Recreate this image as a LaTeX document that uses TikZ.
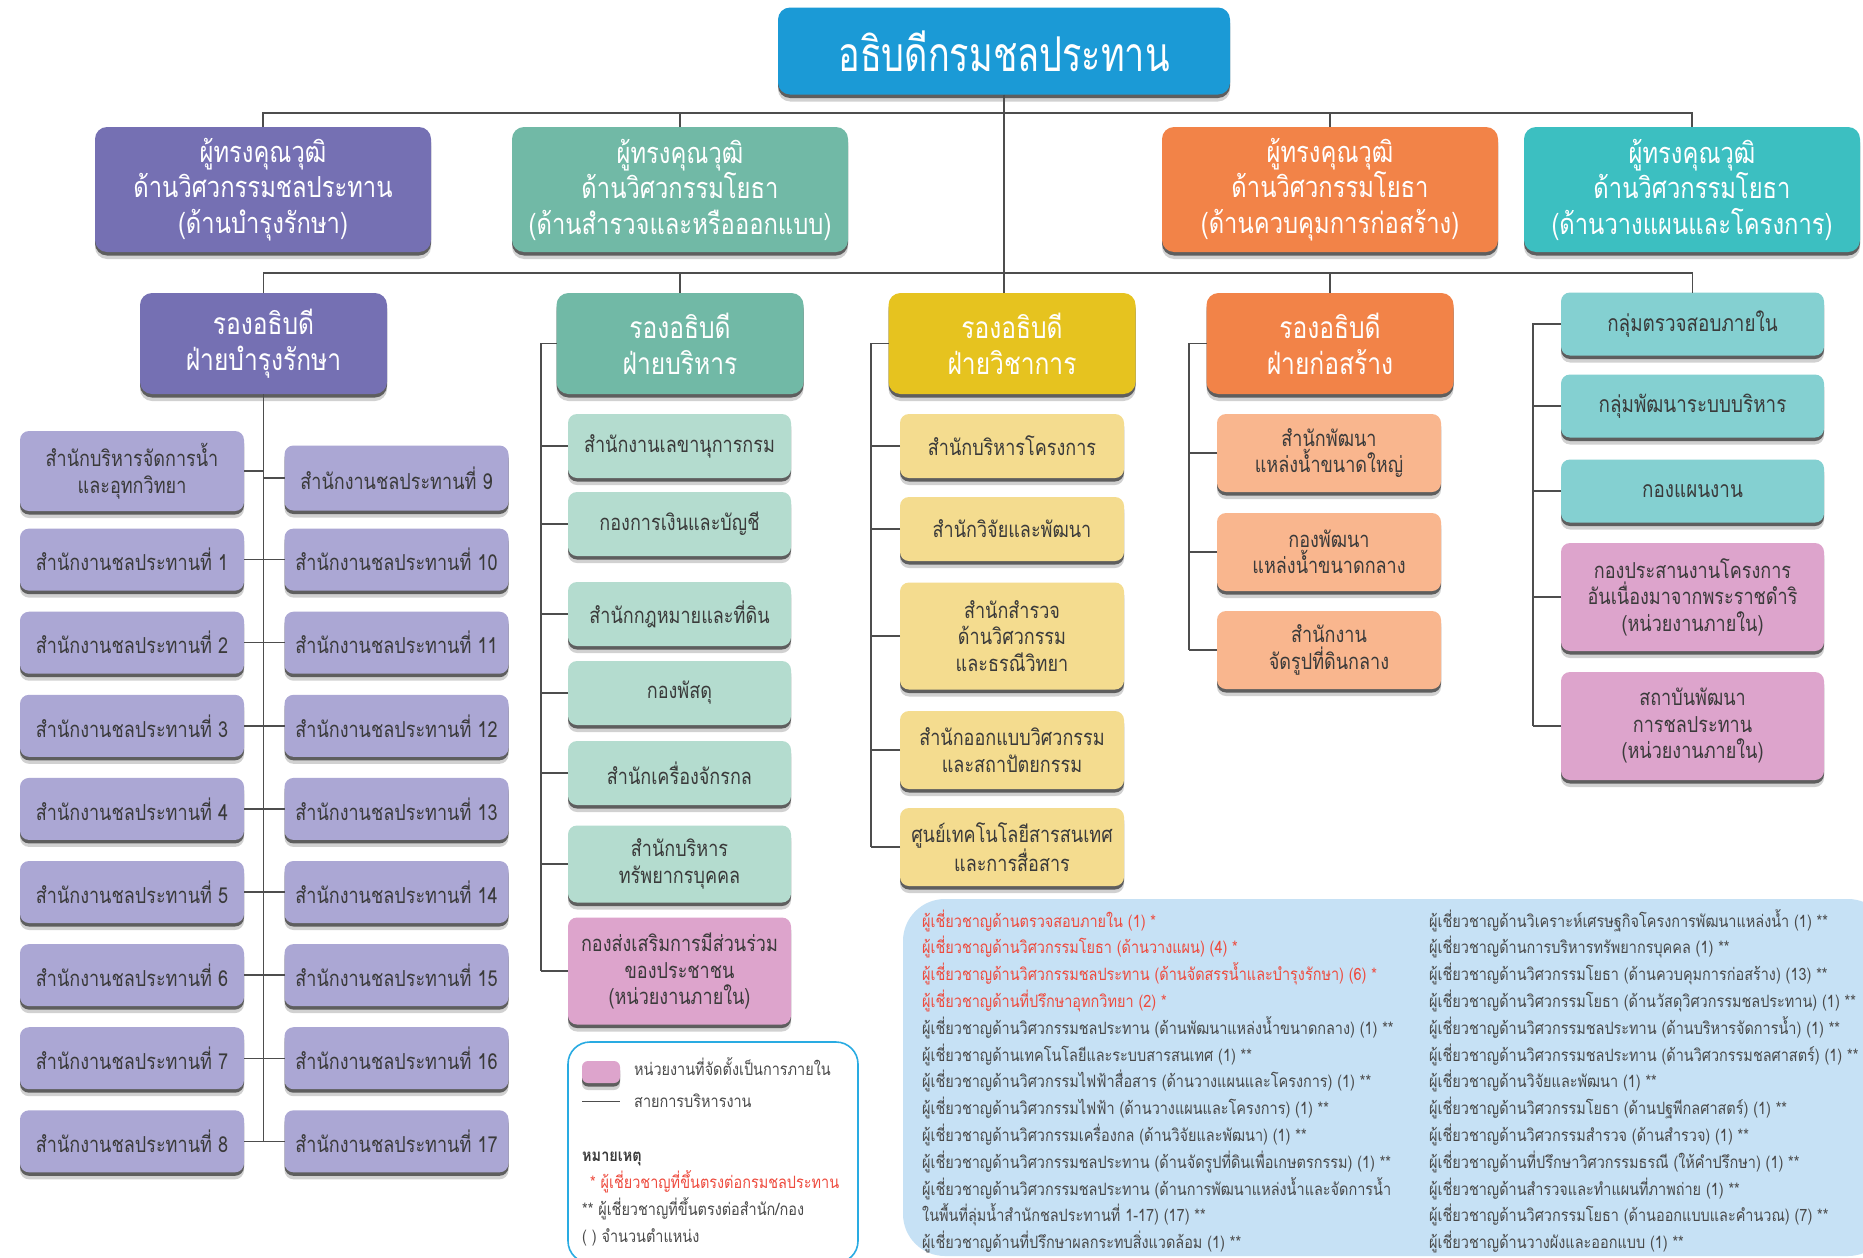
\documentclass[tikz,border=0pt]{standalone}
\usepackage{fontspec}
\setmainfont{Liberation Sans}
\newfontfamily\thai[Script=Thai,FakeStretch=0.85]{Loma}
\newfontfamily\thaic[Script=Thai,FakeStretch=0.82]{Loma}
\newfontfamily\thait[Script=Thai,FakeStretch=0.75]{Loma}
\usetikzlibrary{shadows}
\definecolor{cTitle}{HTML}{1B9AD6}
\definecolor{cPurple}{HTML}{7570B3}
\definecolor{cPurpleL}{HTML}{ABA7D4}
\definecolor{cGreen}{HTML}{71B9A6}
\definecolor{cGreenL}{HTML}{B4DCCF}
\definecolor{cYellow}{HTML}{E6C31F}
\definecolor{cYellowL}{HTML}{F4DC8F}
\definecolor{cOrange}{HTML}{F28348}
\definecolor{cOrangeL}{HTML}{F9B68E}
\definecolor{cTeal}{HTML}{3CBFC1}
\definecolor{cTealL}{HTML}{84D0D1}
\definecolor{cPink}{HTML}{DDA4CC}
\definecolor{cPanel}{HTML}{C6E1F5}
\definecolor{cRed}{HTML}{EE4B3E}
\definecolor{cText}{HTML}{3A3A3A}
\definecolor{cGrey}{HTML}{4A4A4A}
\definecolor{cLine}{HTML}{4D4D4D}
\definecolor{cLegend}{HTML}{29ABE2}
\begin{document}
\begin{tikzpicture}[x=1pt,y=-1pt,
  base/.style={rounded corners=9pt, align=center, inner sep=2pt, outer sep=0pt,
    drop shadow={shadow xshift=0pt, shadow yshift=-7pt, opacity=.18, fill=black},
    general shadow={shadow xshift=0pt, shadow yshift=-3.5pt, fill=black, opacity=.55}},
  titlebox/.style={base, fill=cTitle, text=white, rounded corners=12pt,
    font=\thait\fontsize{48}{52}\selectfont, minimum width=452pt, minimum height=87pt},
  rowone/.style={base, text=white, rounded corners=12pt,
    font=\thaic\fontsize{29}{35.5}\selectfont, minimum width=336pt, minimum height=125pt},
  headbox/.style={base, text=white, rounded corners=12pt,
    font=\thaic\fontsize{30}{36}\selectfont, minimum width=247pt, minimum height=101pt},
  subbox/.style={base, text=cText, font=\thaic\fontsize{22}{26.5}\selectfont},
  colP/.style={subbox, fill=cPurpleL, minimum width=224pt, minimum height=62pt},
  colG/.style={subbox, fill=cGreenL, minimum width=223pt, minimum height=64pt},
  colY/.style={subbox, fill=cYellowL, minimum width=224pt, minimum height=64pt},
  colO/.style={subbox, fill=cOrangeL, minimum width=224pt, minimum height=78pt},
  colT/.style={subbox, fill=cTealL, minimum width=263pt, minimum height=63pt,
    font=\thaic\fontsize{23}{27}\selectfont},
  conn/.style={draw=cLine, line width=1.4pt},
  ptext/.style={anchor=base west, inner sep=0pt, text=cGrey, font=\thai\fontsize{17}{20}\selectfont},
  ltext/.style={anchor=base west, inner sep=0pt, text=cGrey, font=\thai\fontsize{17}{20}\selectfont}
]
\useasboundingbox (0,0) rectangle (1863,1258);
\fill[white] (0,0) rectangle (1863,1258);

% panel and legend frame
\fill[cPanel, rounded corners=42pt] (903,899) rectangle (1890,1256);
\draw[cLegend, line width=1.6pt, fill=white, rounded corners=22pt] (568,1042) rectangle (858,1263);

% title and first row
\node[titlebox] (title) at (1004,51) {อธิบดีกรมชลประทาน};
\node[rowone, fill=cPurple] (r1a) at (263,189.5) {ผู้ทรงคุณวุฒิ\\ด้านวิศวกรรมชลประทาน\\(ด้านบำรุงรักษา)};
\node[rowone, fill=cGreen] (r1b) at (680,189.5) {ผู้ทรงคุณวุฒิ\\ด้านวิศวกรรมโยธา\\(ด้านสำรวจและหรือออกแบบ)};
\node[rowone, fill=cOrange] (r1c) at (1330,189.5) {ผู้ทรงคุณวุฒิ\\ด้านวิศวกรรมโยธา\\(ด้านควบคุมการก่อสร้าง)};
\node[rowone, fill=cTeal] (r1d) at (1692,189.5) {ผู้ทรงคุณวุฒิ\\ด้านวิศวกรรมโยธา\\(ด้านวางแผนและโครงการ)};

% deputy heads
\node[headbox, fill=cPurple] (h1) at (263.5,343.5) {รองอธิบดี\\ฝ่ายบำรุงรักษา};
\node[headbox, fill=cGreen] (h2) at (680,343.5) {รองอธิบดี\\ฝ่ายบริหาร};
\node[headbox, fill=cYellow] (h3) at (1012,343.5) {รองอธิบดี\\ฝ่ายวิชาการ};
\node[headbox, fill=cOrange] (h4) at (1330,343.5) {รองอธิบดี\\ฝ่ายก่อสร้าง};

% column 1
\node[colP, minimum height=80pt] (pL1) at (132,471) {สำนักบริหารจัดการน้ำ\\และอุทกวิทยา};
\node[colP, minimum height=65pt] (pR1) at (396.5,478) {สำนักงานชลประทานที่ 9};
\foreach \i [evaluate=\i as \yy using 559.6+83.1*(\i-1),
             evaluate=\i as \n using int(\i+1),
             evaluate=\i as \m using int(\i+9)] in {1,...,8} {
  \node[colP] (pL\n) at (132,\yy) {สำนักงานชลประทานที่ \i};
  \node[colP] (pR\n) at (396.5,\yy) {สำนักงานชลประทานที่ \m};
}

% column 2
\node[colG] (g1) at (679.5,446) {สำนักงานเลขานุการกรม};
\node[colG] (g2) at (679.5,524) {กองการเงินและบัญชี};
\node[colG] (g3) at (679.5,614) {สำนักกฎหมายและที่ดิน};
\node[colG] (g4) at (679.5,693) {กองพัสดุ};
\node[colG] (g5) at (679.5,773) {สำนักเครื่องจักรกล};
\node[colG, minimum height=77pt] (g6) at (679.5,864) {สำนักบริหาร\\ทรัพยากรบุคคล};
\node[colG, fill=cPink, minimum height=107pt] (g7) at (679.5,971) {กองส่งเสริมการมีส่วนร่วม\\ของประชาชน\\(หน่วยงานภายใน)};

% column 3
\node[colY] (y1) at (1012,446) {สำนักบริหารโครงการ};
\node[colY] (y2) at (1012,529) {สำนักวิจัยและพัฒนา};
\node[colY, minimum height=107pt] (y3) at (1012,636) {สำนักสำรวจ\\ด้านวิศวกรรม\\และธรณีวิทยา};
\node[colY, minimum height=78pt] (y4) at (1012,750) {สำนักออกแบบวิศวกรรม\\และสถาปัตยกรรม};
\node[colY, minimum height=78pt] (y5) at (1012,847) {ศูนย์เทคโนโลยีสารสนเทศ\\และการสื่อสาร};

% column 4
\node[colO] (o1) at (1329,453) {สำนักพัฒนา\\แหล่งน้ำขนาดใหญ่};
\node[colO] (o2) at (1329,552) {กองพัฒนา\\แหล่งน้ำขนาดกลาง};
\node[colO] (o3) at (1329,650) {สำนักงาน\\จัดรูปที่ดินกลาง};

% column 5
\node[colT] (t1) at (1692.5,324) {กลุ่มตรวจสอบภายใน};
\node[colT] (t2) at (1692.5,406) {กลุ่มพัฒนาระบบบริหาร};
\node[colT] (t3) at (1692.5,491) {กองแผนงาน};
\node[colT, fill=cPink, minimum height=108pt, font=\thaic\fontsize{22}{26.5}\selectfont] (t4) at (1692.5,597) {กองประสานงานโครงการ\\อันเนื่องมาจากพระราชดำริ\\(หน่วยงานภายใน)};
\node[colT, fill=cPink, minimum height=108pt, font=\thaic\fontsize{22}{26.5}\selectfont] (t5) at (1692.5,726) {สถาบันพัฒนา\\การชลประทาน\\(หน่วยงานภายใน)};

% connectors
\coordinate (busA) at (0,113);
\coordinate (busB) at (0,273);
\coordinate (b2) at (541,0);
\coordinate (b3) at (871,0);
\coordinate (b4) at (1189,0);
\coordinate (b5) at (1533,0);
\draw[conn] (title.south) -- (title.south |- h3.north);
\draw[conn] (r1a.north) -- (r1a.north |- busA) -- (r1d.north |- busA) -- (r1d.north);
\draw[conn] (r1b.north) -- (r1b.north |- busA);
\draw[conn] (r1c.north) -- (r1c.north |- busA);
\draw[conn] (h1.north) -- (h1.north |- busB) -- (t1.north |- busB) -- (t1.north);
\draw[conn] (h2.north) -- (h2.north |- busB);
\draw[conn] (h4.north) -- (h4.north |- busB);
% column 1 spine
\draw[conn] (h1.south) -- (h1.south |- pL9.east);
\foreach \n in {1,...,9} {
  \draw[conn] (pL\n.east) -- (pL\n.east -| h1.south);
  \draw[conn] (pR\n.west) -- (pR\n.west -| h1.south);
}
% column 2
\draw[conn] (h2.west) -- (h2.west -| b2) -- (b2 |- g7.west);
\foreach \n in {1,...,7} { \draw[conn] (g\n.west) -- (g\n.west -| b2); }
% column 3
\draw[conn] (h3.west) -- (h3.west -| b3) -- (b3 |- y5.west);
\foreach \n in {1,...,5} { \draw[conn] (y\n.west) -- (y\n.west -| b3); }
% column 4
\draw[conn] (h4.west) -- (h4.west -| b4) -- (b4 |- o3.west);
\foreach \n in {1,...,3} { \draw[conn] (o\n.west) -- (o\n.west -| b4); }
% column 5
\draw[conn] (t1.west) -- (t1.west -| b5) -- (b5 |- t5.west);
\foreach \n in {2,...,5} { \draw[conn] (t\n.west) -- (t\n.west -| b5); }

% expert lists
\foreach \t [count=\i, evaluate=\i as \yy using 927+26.8*(\i-1)] in {
  ผู้เชี่ยวชาญด้านตรวจสอบภายใน (1) *,
  ผู้เชี่ยวชาญด้านวิศวกรรมโยธา (ด้านวางแผน) (4) *,
  ผู้เชี่ยวชาญด้านวิศวกรรมชลประทาน (ด้านจัดสรรน้ำและบำรุงรักษา) (6) *,
  ผู้เชี่ยวชาญด้านที่ปรึกษาอุทกวิทยา (2) *} {
  \node[ptext, text=cRed] (L\i) at (922,\yy) {\t};
}
\foreach \t [count=\i, evaluate=\i as \yy using 927+26.8*(\i+3),
             evaluate=\i as \n using int(\i+4)] in {
  ผู้เชี่ยวชาญด้านวิศวกรรมชลประทาน (ด้านพัฒนาแหล่งน้ำขนาดกลาง) (1) **,
  ผู้เชี่ยวชาญด้านเทคโนโลยีและระบบสารสนเทศ (1) **,
  ผู้เชี่ยวชาญด้านวิศวกรรมไฟฟ้าสื่อสาร (ด้านวางแผนและโครงการ) (1) **,
  ผู้เชี่ยวชาญด้านวิศวกรรมไฟฟ้า (ด้านวางแผนและโครงการ) (1) **,
  ผู้เชี่ยวชาญด้านวิศวกรรมเครื่องกล (ด้านวิจัยและพัฒนา) (1) **,
  ผู้เชี่ยวชาญด้านวิศวกรรมชลประทาน (ด้านจัดรูปที่ดินเพื่อเกษตรกรรม) (1) **,
  ผู้เชี่ยวชาญด้านวิศวกรรมชลประทาน (ด้านการพัฒนาแหล่งน้ำและจัดการน้ำ,
  ในพื้นที่ลุ่มน้ำสำนักชลประทานที่ 1-17) (17) **,
  ผู้เชี่ยวชาญด้านที่ปรึกษาผลกระทบสิ่งแวดล้อม (1) **} {
  \node[ptext] (L\n) at (922,\yy) {\t};
}
\foreach \t [count=\i, evaluate=\i as \yy using 927+26.8*(\i-1)] in {
  ผู้เชี่ยวชาญด้านวิเคราะห์เศรษฐกิจโครงการพัฒนาแหล่งน้ำ (1) **,
  ผู้เชี่ยวชาญด้านการบริหารทรัพยากรบุคคล (1) **,
  ผู้เชี่ยวชาญด้านวิศวกรรมโยธา (ด้านควบคุมการก่อสร้าง) (13) **,
  ผู้เชี่ยวชาญด้านวิศวกรรมโยธา (ด้านวัสดุวิศวกรรมชลประทาน) (1) **,
  ผู้เชี่ยวชาญด้านวิศวกรรมชลประทาน (ด้านบริหารจัดการน้ำ) (1) **,
  ผู้เชี่ยวชาญด้านวิศวกรรมชลประทาน (ด้านวิศวกรรมชลศาสตร์) (1) **,
  ผู้เชี่ยวชาญด้านวิจัยและพัฒนา (1) **,
  ผู้เชี่ยวชาญด้านวิศวกรรมโยธา (ด้านปฐพีกลศาสตร์) (1) **,
  ผู้เชี่ยวชาญด้านวิศวกรรมสำรวจ (ด้านสำรวจ) (1) **,
  ผู้เชี่ยวชาญด้านที่ปรึกษาวิศวกรรมธรณี (ให้คำปรึกษา) (1) **,
  ผู้เชี่ยวชาญด้านสำรวจและทำแผนที่ภาพถ่าย (1) **,
  ผู้เชี่ยวชาญด้านวิศวกรรมโยธา (ด้านออกแบบและคำนวณ) (7) **,
  ผู้เชี่ยวชาญด้านวางผังและออกแบบ (1) **} {
  \node[ptext] (R\i) at (1429,\yy) {\t};
}

% legend
\node[base, fill=cPink, rounded corners=6pt, minimum width=38pt, minimum height=22pt, inner sep=0pt] (sw) at (601,1072) {};
\coordinate (la) at (582,1101);
\coordinate (lb) at (620,1101);
\draw[draw=cLine, line width=1pt] (la) -- (lb);
\node[ltext] (lg1) at (634,1075) {หน่วยงานที่จัดตั้งเป็นการภายใน};
\node[ltext] (lg2) at (634,1107) {สายการบริหารงาน};
\node[ltext, text=cText, font=\thai\bfseries\fontsize{17}{20}\selectfont] (lg3) at (582,1161) {หมายเหตุ};
\node[ltext, text=cRed] (lg4) at (590,1188) {* ผู้เชี่ยวชาญที่ขึ้นตรงต่อกรมชลประทาน};
\node[ltext] (lg5) at (582,1215) {** ผู้เชี่ยวชาญที่ขึ้นตรงต่อสำนัก/กอง};
\node[ltext] (lg6) at (582,1242) {( ) จำนวนตำแหน่ง};
\end{tikzpicture}
\end{document}
